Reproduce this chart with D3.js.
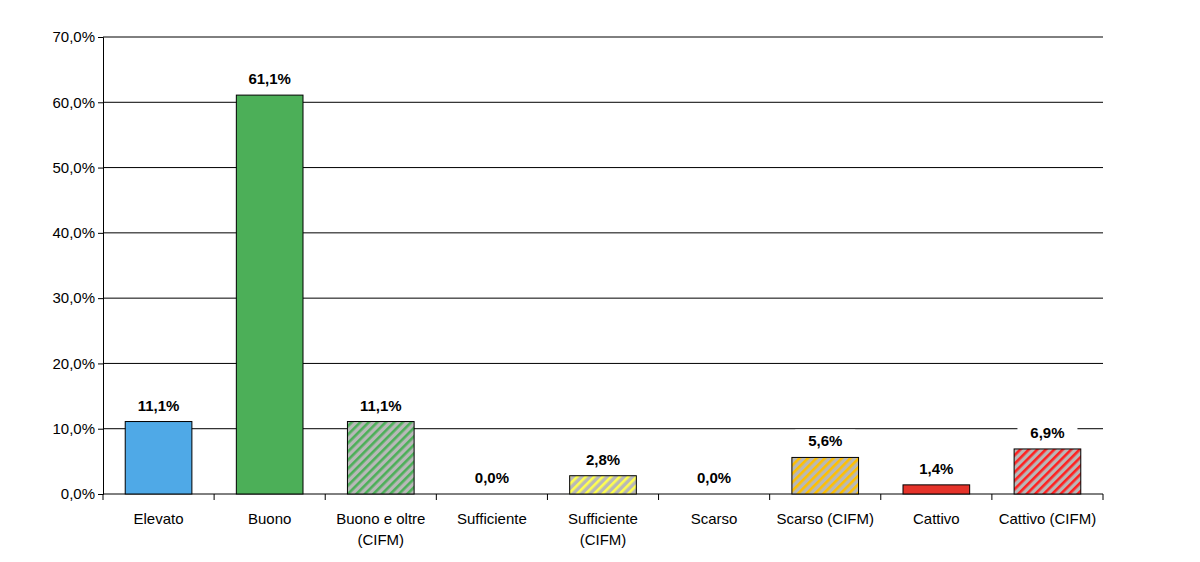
<!DOCTYPE html>
<html><head><meta charset="utf-8">
<script src="https://cdn.jsdelivr.net/npm/d3@7"></script>
<style>body{margin:0;background:#fff;font-family:"Liberation Sans",Arial,sans-serif}</style>
</head><body><div id="chart"></div>
<script>
var categories = ["Elevato","Buono","Buono e oltre\n(CIFM)","Sufficiente","Sufficiente\n(CIFM)","Scarso","Scarso (CIFM)","Cattivo","Cattivo (CIFM)"];
var values = [11.1, 61.1, 11.1, 0.0, 2.8, 0.0, 5.6, 1.4, 6.9];
var colors = ["#4fa9e7","#4caf58","#4caf58","#ffff4f","#ffff4f","#ffc000","#ffc000","#e5332a","#ff2020"];
var hatched = [false,false,true,false,true,false,true,false,true];
var yTicks = [0,10,20,30,40,50,60,70];

var W = 1200, H = 562, m = {l:103, r:97, t:37, b:68};
var svg = d3.select("#chart").append("svg").attr("width",W).attr("height",H);
var defs = svg.append("defs");
var x = d3.scaleBand().domain(categories).range([m.l, W-m.r]).paddingInner(0.4).paddingOuter(0.2);
var y = d3.scaleLinear().domain([0,70]).range([H-m.b, m.t]);

categories.forEach(function(c,i){
  if(!hatched[i]) return;
  var p = defs.append("pattern").attr("id","h"+i).attr("patternUnits","userSpaceOnUse")
    .attr("width",6).attr("height",6).attr("patternTransform","rotate(45)");
  p.append("rect").attr("width",6).attr("height",6).attr("fill","#b8b8b8");
  p.append("rect").attr("width",2.6).attr("height",6).attr("fill",colors[i]);
});

// gridlines
svg.append("g").selectAll("line").data(yTicks.slice(1)).enter().append("line")
  .attr("x1",m.l).attr("x2",W-m.r).attr("y1",function(d){return y(d);}).attr("y2",function(d){return y(d);})
  .attr("stroke","#000").attr("stroke-width",1);

var ya = svg.append("g").attr("transform","translate("+m.l+",0)")
  .call(d3.axisLeft(y).tickValues(yTicks).tickSize(5).tickFormat(function(d){return d.toFixed(1).replace(".",",")+"%";}));
ya.select(".domain").attr("stroke","#000");
ya.selectAll("text").attr("font-size",15).attr("font-family","Liberation Sans, Arial").attr("fill","#000");

// x axis with category separators
svg.append("line").attr("x1",m.l).attr("x2",W-m.r).attr("y1",y(0)).attr("y2",y(0)).attr("stroke","#000");
var step = x.step();
d3.range(categories.length+1).forEach(function(i){
  var xx = m.l + i*(W-m.l-m.r)/categories.length;
  svg.append("line").attr("x1",xx).attr("x2",xx).attr("y1",y(0)).attr("y2",y(0)+6).attr("stroke","#000");
});

svg.append("g").selectAll("rect").data(values).enter().append("rect")
  .attr("x",function(d,i){return x(categories[i]);}).attr("width",x.bandwidth())
  .attr("y",function(d){return y(d);}).attr("height",function(d){return y(0)-y(d);})
  .attr("fill",function(d,i){return hatched[i]?"url(#h"+i+")":colors[i];})
  .attr("stroke","#000").attr("stroke-width",1);

var lbl = svg.append("g").selectAll("g").data(values).enter().append("g")
  .attr("transform",function(d,i){return "translate("+(x(categories[i])+x.bandwidth()/2)+","+(y(d)-16)+")";});
lbl.append("rect").attr("x",-30).attr("y",-12).attr("width",60).attr("height",22).attr("fill","#fff");
lbl.append("text").attr("text-anchor","middle").attr("dy",5).attr("font-size",15).attr("font-weight","bold")
  .text(function(d){return d.toFixed(1).replace(".",",")+"%";});

var xl = svg.append("g").selectAll("text").data(categories).enter().append("text")
  .attr("text-anchor","middle").attr("font-size",15)
  .attr("x",function(d){return x(d)+x.bandwidth()/2;}).attr("y",y(0)+30);
xl.each(function(d){
  var t = d3.select(this);
  d.split("\n").forEach(function(s,k){
    t.append("tspan").attr("x",t.attr("x")).attr("dy",k?21:0).text(s);
  });
});
</script></body></html>
